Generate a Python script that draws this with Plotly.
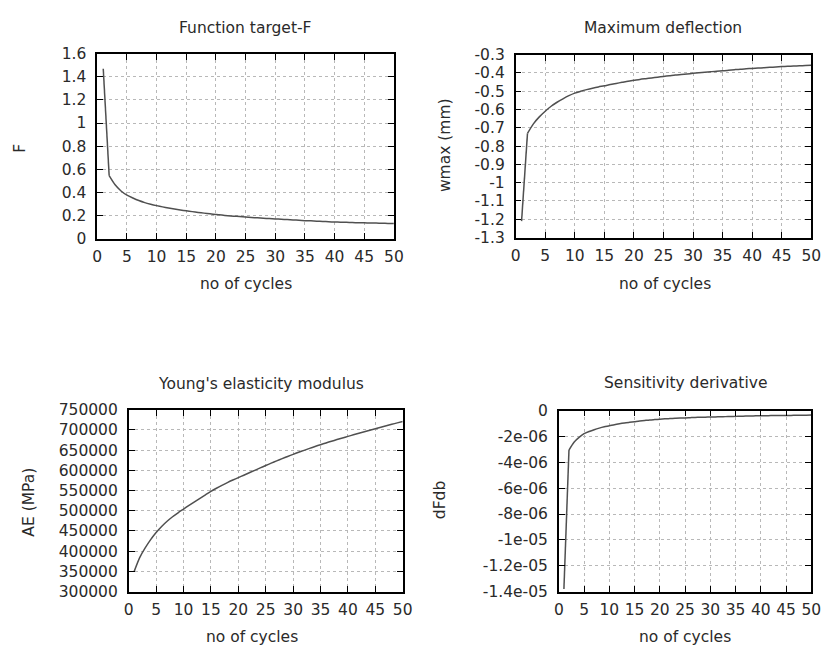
import plotly.graph_objects as go

cycles = list(range(1, 51))

F_vals = [1.47, 0.544, 0.465, 0.412, 0.376, 0.351, 0.329, 0.311, 0.297, 0.285,
          0.274, 0.264, 0.255, 0.247, 0.240, 0.233, 0.226, 0.220, 0.214, 0.208,
          0.203, 0.198, 0.194, 0.190, 0.186, 0.182, 0.179, 0.176, 0.173, 0.170,
          0.167, 0.164, 0.161, 0.158, 0.155, 0.153, 0.150, 0.148, 0.145, 0.143,
          0.1415, 0.140, 0.1385, 0.137, 0.136, 0.1348, 0.1336, 0.1324, 0.1312, 0.130]

wmax_vals = [-1.21, -0.73, -0.678, -0.640, -0.609, -0.582, -0.560, -0.541, -0.524, -0.510,
             -0.500, -0.491, -0.483, -0.476, -0.470, -0.463, -0.457, -0.451, -0.445, -0.440,
             -0.435, -0.431, -0.427, -0.423, -0.419, -0.415, -0.411, -0.408, -0.405, -0.402,
             -0.399, -0.396, -0.393, -0.390, -0.388, -0.385, -0.382, -0.379, -0.377, -0.375,
             -0.373, -0.371, -0.369, -0.367, -0.365, -0.3636, -0.3622, -0.3608, -0.3594, -0.358]

AE_vals = [350000, 384000, 408000, 428500, 446000, 461000, 474000, 485200, 495000, 504200,
           513300, 522200, 530900, 539500, 548000, 555700, 562900, 569700, 576000, 582000,
           588000, 594000, 600000, 606000, 612000, 617800, 623400, 628900, 634300, 639600,
           644600, 649500, 654300, 659000, 663500, 667800, 672000, 676100, 680100, 684000,
           687900, 691800, 695600, 699300, 703000, 706600, 710200, 713800, 717400, 721000]

dFdb_vals = [-13.8e-6, -3.05e-6, -2.44e-6, -2.07e-6, -1.78e-6, -1.61e-6, -1.47e-6, -1.35e-6, -1.25e-6, -1.17e-6,
             -1.08e-6, -1.01e-6, -0.95e-6, -0.90e-6, -0.85e-6, -0.80e-6, -0.76e-6, -0.72e-6, -0.69e-6, -0.66e-6,
             -0.63e-6, -0.61e-6, -0.59e-6, -0.57e-6, -0.56e-6, -0.54e-6, -0.52e-6, -0.51e-6, -0.50e-6, -0.49e-6,
             -0.48e-6, -0.47e-6, -0.46e-6, -0.45e-6, -0.44e-6, -0.43e-6, -0.42e-6, -0.41e-6, -0.40e-6, -0.39e-6,
             -0.386e-6, -0.382e-6, -0.378e-6, -0.374e-6, -0.37e-6, -0.364e-6, -0.358e-6, -0.352e-6, -0.346e-6, -0.34e-6]

x_ticks = [0, 5, 10, 15, 20, 25, 30, 35, 40, 45, 50]
x_ticktext = [str(v) for v in x_ticks]

F_ticks = [0, 0.2, 0.4, 0.6, 0.8, 1.0, 1.2, 1.4, 1.6]
F_ticktext = ["0", "0.2", "0.4", "0.6", "0.8", "1", "1.2", "1.4", "1.6"]

w_ticks = [-1.3, -1.2, -1.1, -1.0, -0.9, -0.8, -0.7, -0.6, -0.5, -0.4, -0.3]
w_ticktext = ["-1.3", "-1.2", "-1.1", "-1", "-0.9", "-0.8", "-0.7", "-0.6", "-0.5", "-0.4", "-0.3"]

AE_ticks = [300000, 350000, 400000, 450000, 500000, 550000, 600000, 650000, 700000, 750000]
AE_ticktext = [str(v) for v in AE_ticks]

d_ticks = [-1.4e-5, -1.2e-5, -1e-5, -8e-6, -6e-6, -4e-6, -2e-6, 0]
d_ticktext = ["-1.4e-05", "-1.2e-05", "-1e-05", "-8e-06", "-6e-06", "-4e-06", "-2e-06", "0"]

titles = ["Function target-F", "Maximum deflection", "Young's elasticity modulus", "Sensitivity derivative"]
ytitles = ["F", "wmax (mm)", "AE (MPa)", "dFdb"]
xtitle = "no of cycles"

W, H = 835, 657
FONT = "DejaVu Sans"
FS = 15.5
TXT = "#2a2a2a"
LINE = "#505050"

fig = go.Figure()

# plot areas in pixels: (x0, x1, ytop, ybottom)
boxes = [(94, 396, 46, 236), (520, 821, 47, 235), (126, 405, 412, 599), (564, 821, 413, 599)]
ydata = [F_vals, wmax_vals, AE_vals, dFdb_vals]
yranges = [[0, 1.6], [-1.3, -0.3], [300000, 750000], [-1.4e-5, 0]]
yticks = [(F_ticks, F_ticktext), (w_ticks, w_ticktext), (AE_ticks, AE_ticktext), (d_ticks, d_ticktext)]
# the first three series have a sharp corner at cycle 2; the modulus curve is smooth throughout
sharp_start = [True, True, False, True]

title_pos = [(245, 20), (670, 20), (261, 386), (693, 385)]
xtitle_pos = [(245, 283), (672, 283), (252, 646), (692, 646)]
ytitle_pos = [(15, 143), (448, 140), (25, 507), (443, 505)]

annotations = []
for i in range(4):
    x0, x1, yt, yb = boxes[i]
    xa = "x" if i == 0 else f"x{i+1}"
    ya = "y" if i == 0 else f"y{i+1}"
    ys = ydata[i]
    if sharp_start[i]:
        fig.add_trace(go.Scatter(x=cycles[:2], y=ys[:2], mode="lines",
                                 line=dict(color=LINE, width=1.5),
                                 xaxis=xa, yaxis=ya, showlegend=False))
        fig.add_trace(go.Scatter(x=cycles[1:], y=ys[1:], mode="lines",
                                 line=dict(color=LINE, width=1.5, shape="spline", smoothing=0.8),
                                 xaxis=xa, yaxis=ya, showlegend=False))
    else:
        fig.add_trace(go.Scatter(x=cycles, y=ys, mode="lines",
                                 line=dict(color=LINE, width=1.5, shape="spline", smoothing=0.8),
                                 xaxis=xa, yaxis=ya, showlegend=False))
    axcommon = dict(showline=True, linecolor="black", linewidth=1.6, mirror="ticks",
                    ticks="inside", ticklen=6, tickcolor="black", tickwidth=1.3,
                    showgrid=True, gridcolor="#b8b8b8", griddash="dot", gridwidth=1,
                    zeroline=False, tickfont=dict(family=FONT, size=FS, color=TXT))
    xkey = "xaxis" if i == 0 else f"xaxis{i+1}"
    ykey = "yaxis" if i == 0 else f"yaxis{i+1}"
    fig.update_layout(**{
        xkey: dict(domain=[x0 / W, x1 / W], range=[0, 50], anchor=ya,
                   tickmode="array", tickvals=x_ticks, ticktext=x_ticktext,
                   ticklabelstandoff=3, **axcommon),
        ykey: dict(domain=[1 - yb / H, 1 - yt / H], range=yranges[i], anchor=xa,
                   tickmode="array", tickvals=yticks[i][0], ticktext=yticks[i][1],
                   ticklabelstandoff=6, **axcommon),
    })
    tx, ty = title_pos[i]
    annotations.append(dict(text=titles[i], x=tx / W, y=1 - ty / H, xref="paper", yref="paper",
                            showarrow=False, xanchor="center", yanchor="middle",
                            font=dict(family=FONT, size=FS, color=TXT)))
    tx, ty = xtitle_pos[i]
    annotations.append(dict(text=xtitle, x=tx / W, y=1 - ty / H, xref="paper", yref="paper",
                            showarrow=False, xanchor="center", yanchor="middle",
                            font=dict(family=FONT, size=FS, color=TXT)))
    tx, ty = ytitle_pos[i]
    annotations.append(dict(text=ytitles[i], x=tx / W, y=1 - ty / H, xref="paper", yref="paper",
                            showarrow=False, xanchor="center", yanchor="middle", textangle=-90,
                            font=dict(family=FONT, size=FS, color=TXT)))

fig.update_layout(width=W, height=H, margin=dict(l=0, r=0, t=0, b=0),
                  paper_bgcolor="white", plot_bgcolor="white",
                  annotations=annotations, showlegend=False)

fig.write_html("out.html")
